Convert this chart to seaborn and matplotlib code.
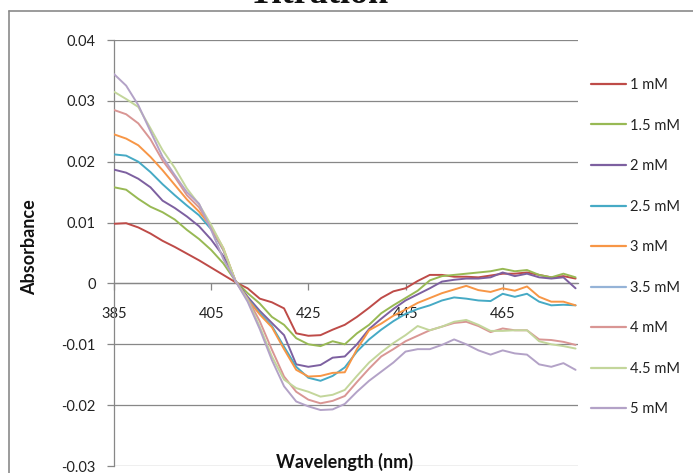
import numpy as np
import pandas as pd
import matplotlib
matplotlib.use("Agg")
import matplotlib.pyplot as plt
from matplotlib.lines import Line2D
import seaborn as sns

wavelength = [385, 387.5, 390, 392.5, 395, 397.5, 400, 402.5, 405, 407.5, 410,
              412.5, 415, 417.5, 420, 422.5, 425, 427.5, 430, 432.5, 435, 437.5,
              440, 442.5, 445, 447.5, 450, 452.5, 455, 457.5, 460, 462.5, 465,
              467.5, 470, 472.5, 475, 477.5, 480]

mM_1 = [0.0098, 0.0099, 0.0092, 0.0082, 0.0070, 0.0060, 0.0049, 0.0038, 0.0026, 0.0014, 0.0002,
        -0.0008, -0.0025, -0.0031, -0.0041, -0.0082, -0.0086, -0.0085, -0.0076, -0.0068, -0.0055, -0.0040,
        -0.0024, -0.0013, -0.0008, 0.0004, 0.0014, 0.0014, 0.0011, 0.0011, 0.0010, 0.0013, 0.0016,
        0.0016, 0.0018, 0.0014, 0.0010, 0.0012, 0.0008]
mM_1_5 = [0.0158, 0.0154, 0.0139, 0.0126, 0.0117, 0.0105, 0.0088, 0.0073, 0.0055, 0.0033, 0.0004,
          -0.0016, -0.0033, -0.0055, -0.0068, -0.0090, -0.0100, -0.0103, -0.0095, -0.0100, -0.0082, -0.0068,
          -0.0049, -0.0036, -0.0024, -0.0012, 0.0005, 0.0012, 0.0014, 0.0016, 0.0018, 0.0020, 0.0024,
          0.0020, 0.0022, 0.0014, 0.0010, 0.0016, 0.0010]
mM_2 = [0.0187, 0.0182, 0.0172, 0.0158, 0.0136, 0.0124, 0.0110, 0.0094, 0.0072, 0.0045, 0.0004,
        -0.0022, -0.0045, -0.0065, -0.0085, -0.0133, -0.0137, -0.0134, -0.0122, -0.0120, -0.0100, -0.0075,
        -0.0058, -0.0042, -0.0028, -0.0018, -0.0008, 0.0003, 0.0006, 0.0008, 0.0008, 0.0010, 0.0018,
        0.0012, 0.0016, 0.0010, 0.0008, 0.0010, -0.0008]
mM_2_5 = [0.0212, 0.0210, 0.0200, 0.0183, 0.0163, 0.0145, 0.0128, 0.0112, 0.0089, 0.0055, 0.0004,
          -0.0025, -0.0049, -0.0070, -0.0104, -0.0137, -0.0155, -0.0160, -0.0152, -0.0138, -0.0112, -0.0092,
          -0.0076, -0.0062, -0.0050, -0.0042, -0.0036, -0.0028, -0.0023, -0.0025, -0.0028, -0.0029, -0.0017,
          -0.0022, -0.0017, -0.0030, -0.0036, -0.0035, -0.0036]
mM_3 = [0.0245, 0.0238, 0.0227, 0.0208, 0.0186, 0.0162, 0.0138, 0.0118, 0.0093, 0.0058, 0.0004,
        -0.0026, -0.0051, -0.0072, -0.0108, -0.0142, -0.0153, -0.0152, -0.0147, -0.0146, -0.0108, -0.0077,
        -0.0066, -0.0053, -0.0043, -0.0032, -0.0024, -0.0016, -0.0010, -0.0004, -0.0011, -0.0014, -0.0008,
        -0.0012, -0.0005, -0.0022, -0.0030, -0.0030, -0.0036]
mM_3_5 = [None] * len(wavelength)
mM_4 = [0.0285, 0.0278, 0.0263, 0.0237, 0.0202, 0.0175, 0.0145, 0.0125, 0.0092, 0.0055, 0.0004,
        -0.0025, -0.0062, -0.0109, -0.0153, -0.0178, -0.0191, -0.0197, -0.0193, -0.0185, -0.0162, -0.0140,
        -0.0120, -0.0108, -0.0095, -0.0086, -0.0077, -0.0071, -0.0065, -0.0063, -0.0070, -0.0080, -0.0074,
        -0.0077, -0.0077, -0.0092, -0.0093, -0.0096, -0.0101]
mM_4_5 = [0.0315, 0.0303, 0.0290, 0.0255, 0.0219, 0.0190, 0.0156, 0.0130, 0.0096, 0.0058, 0.0004,
          -0.0027, -0.0071, -0.0120, -0.0158, -0.0172, -0.0178, -0.0186, -0.0183, -0.0175, -0.0152, -0.0130,
          -0.0113, -0.0098, -0.0085, -0.0070, -0.0077, -0.0071, -0.0063, -0.0060, -0.0068, -0.0078, -0.0078,
          -0.0077, -0.0077, -0.0095, -0.0100, -0.0103, -0.0107]
mM_5 = [0.0344, 0.0325, 0.0293, 0.0250, 0.0208, 0.0178, 0.0150, 0.0131, 0.0088, 0.0040, 0.0004,
        -0.0030, -0.0075, -0.0126, -0.0169, -0.0194, -0.0202, -0.0208, -0.0207, -0.0198, -0.0178, -0.0160,
        -0.0145, -0.0130, -0.0112, -0.0108, -0.0108, -0.0101, -0.0092, -0.0100, -0.0110, -0.0117, -0.0110,
        -0.0115, -0.0117, -0.0133, -0.0137, -0.0131, -0.0142]

series_labels = ["1 mM", "1.5 mM", "2 mM", "2.5 mM", "3 mM", "3.5 mM", "4 mM", "4.5 mM", "5 mM"]
series_values = [mM_1, mM_1_5, mM_2, mM_2_5, mM_3, mM_3_5, mM_4, mM_4_5, mM_5]
colors = ["#BE4B48", "#98B954", "#7D60A0", "#46AAC5", "#F79646",
          "#95B3D7", "#D99694", "#C3D69B", "#B3A2C7"]
x_ticks = [385, 405, 425, 445, 465]
y_ticks = [-0.03, -0.02, -0.01, 0, 0.01, 0.02, 0.03, 0.04]
y_tick_labels = ["-0.03", "-0.02", "-0.01", "0", "0.01", "0.02", "0.03", "0.04"]

rows = []
for lab, vals in zip(series_labels, series_values):
    for w, v in zip(wavelength, vals):
        rows.append({"Wavelength": w, "Absorbance": np.nan if v is None else v, "Conc": lab})
df = pd.DataFrame(rows)

sns.set_theme(style="white")
plt.rcParams["font.family"] = ["Lato", "DejaVu Sans"]

W, H = 693, 473
fig = plt.figure(figsize=(W / 100, H / 100), dpi=100)
ax = fig.add_axes([114 / W, 1 - 466 / H, (578 - 114) / W, (466 - 40) / H])

grid_c = "#878787"
for yv in y_ticks:
    ax.axhline(yv, color=grid_c, lw=0.9, zorder=0)

palette = dict(zip(series_labels, colors))
dplot = df.dropna()
sns.lineplot(data=dplot, x="Wavelength", y="Absorbance", hue="Conc",
             hue_order=[l for l in series_labels if l in dplot["Conc"].unique()],
             palette=palette, lw=1.4, legend=False, ax=ax, sort=False,
             estimator=None, zorder=3)

ax.set_xlim(385, 480.5)
ax.set_ylim(-0.03, 0.04)
ax.set_yticks(y_ticks)
ax.set_yticklabels(y_tick_labels)
ax.set_xticks(x_ticks)
ax.set_xticklabels([str(t) for t in x_ticks])
ax.spines["top"].set_visible(False)
ax.spines["right"].set_visible(False)
ax.spines["bottom"].set_position(("data", 0))
ax.spines["bottom"].set_color(grid_c)
ax.spines["left"].set_color(grid_c)
ax.spines["bottom"].set_linewidth(0.9)
ax.spines["left"].set_linewidth(0.9)
ax.tick_params(axis="y", direction="out", length=5, width=0.9, color=grid_c,
               pad=8, labelsize=10.5, labelcolor="#222222", left=True)
ax.tick_params(axis="x", direction="out", length=5, width=0.9, color=grid_c,
               pad=12, labelsize=10.5, labelcolor="#222222", bottom=True)
ax.set_xlabel("")
ax.set_ylabel("")
ax.patch.set_alpha(0)

fig.text(30 / W, 1 - 247 / H, "Absorbance", rotation=90, ha="center", va="center",
         fontsize=13, fontweight="bold", color="#111111")
fig.text(345 / W, 1 - 462 / H, "Wavelength (nm)", ha="center", va="center",
         fontsize=13, fontweight="bold", color="#111111")
fig.text(318 / W, 1 - 3 / H, "Titration", ha="center", va="baseline",
         fontsize=26, fontweight="bold", family=["Liberation Serif", "DejaVu Serif"], color="#111111")

# chart area border
fig.add_artist(Line2D([9 / W, 9 / W], [0, 1 - 11 / H], transform=fig.transFigure, color="#8a8a8a", lw=1.2))
fig.add_artist(Line2D([9 / W, 1], [1 - 11 / H, 1 - 11 / H], transform=fig.transFigure, color="#8a8a8a", lw=1.2))

handles = [Line2D([0], [0], color=c, lw=1.6) for c in colors]
leg = ax.legend(handles, series_labels, loc="upper left",
                bbox_to_anchor=(591 / W, 1 - 78 / H), bbox_transform=fig.transFigure,
                frameon=False, handlelength=2.4, handletextpad=0.3, labelspacing=1.82,
                borderpad=0, borderaxespad=0, fontsize=10.5)
for t in leg.get_texts():
    t.set_color("#222222")

fig.savefig("out.png", dpi=100)
